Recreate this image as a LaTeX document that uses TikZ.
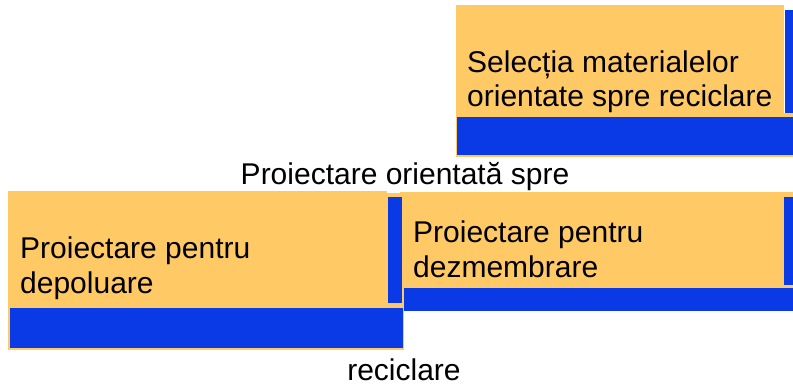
\documentclass[tikz,border=0pt]{standalone}
\usepackage{fontspec}
\setmainfont{Liberation Sans}
\definecolor{boxorange}{RGB}{255,202,102}
\definecolor{boxblue}{RGB}{10,58,230}
\begin{document}
\begin{tikzpicture}[x=1pt,y=-1pt,
  orangepart/.style={fill=boxorange},
  bluepart/.style={fill=boxblue},
  label/.style={inner sep=0pt,anchor=base west,align=left,font=\fontsize{30}{34.5}\selectfont},
  midlabel/.style={inner sep=0pt,anchor=base,font=\fontsize{30}{34.5}\selectfont}]
\useasboundingbox[fill=white] (0,0) rectangle (793,385);
% box 1 (top right)
\fill[orangepart] (456,5) rectangle (784,157);
\fill[orangepart] (784,113) rectangle (793,157);
\fill[bluepart] (785,10) rectangle (793,113);
\fill[bluepart] (457,117) rectangle (793,155);
% box 3 (middle right)
\fill[orangepart] (400,192) rectangle (793,290);
\fill[bluepart] (784,197) rectangle (793,285);
\fill[bluepart] (404,288) rectangle (793,311);
% box 2 (bottom left)
\fill[orangepart] (8,191) rectangle (387,350);
\fill[orangepart] (387,193) rectangle (404,350);
\fill[bluepart] (388,197) rectangle (402,303);
\fill[bluepart] (10,308) rectangle (403,348);
% texts (base anchor = last line's baseline)
\node[label] (t1) at (467,107) {Selecția materialelor\\orientate spre reciclare};
\node[label] (t3) at (413,277) {Proiectare pentru\\dezmembrare};
\node[label] (t2) at (20,293) {Proiectare pentru\\depoluare};
\node[midlabel] (m1) at (405,185) {Proiectare orientată spre};
\node[midlabel] (m2) at (404,380) {reciclare};
\end{tikzpicture}
\end{document}
